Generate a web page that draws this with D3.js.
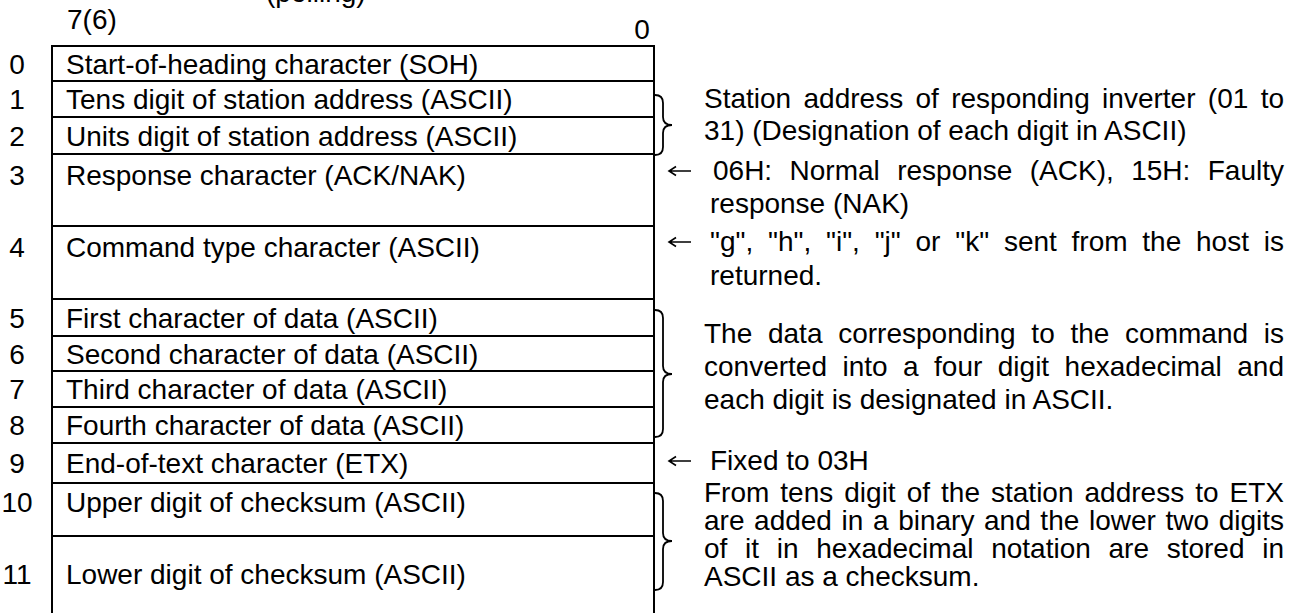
<!DOCTYPE html>
<html>
<head>
<meta charset="utf-8">
<script src="https://cdn.jsdelivr.net/npm/d3@7"></script>
<style>
  html, body { margin: 0; padding: 0; background: #fff; }
  svg { display: block; }
  text { font-family: "Liberation Sans", Arial, sans-serif; fill: #000; }
</style>
</head>
<body>
<script>
// ---------------- data ----------------
const titleText = "(polling)";
const bitLabels = ["7(6)", "0"];
const rowNumbers = ["0", "1", "2", "3", "4", "5", "6", "7", "8", "9", "10", "11"];
const rowFields = [
  "Start-of-heading character (SOH)",
  "Tens digit of station address (ASCII)",
  "Units digit of station address (ASCII)",
  "Response character (ACK/NAK)",
  "Command type character (ASCII)",
  "First character of data (ASCII)",
  "Second character of data (ASCII)",
  "Third character of data (ASCII)",
  "Fourth character of data (ASCII)",
  "End-of-text character (ETX)",
  "Upper digit of checksum (ASCII)",
  "Lower digit of checksum (ASCII)"
];
const noteMarkers = ["brace", "arrow", "arrow", "brace", "arrow", "brace"];
const noteRows = [[1, 2], [3, 3], [4, 4], [5, 8], [9, 9], [10, 11]];
const noteLines = [
  ["Station address of responding inverter (01 to", "31) (Designation of each digit in ASCII)"],
  ["06H: Normal response (ACK), 15H: Faulty", "response (NAK)"],
  ["\"g\", \"h\", \"i\", \"j\" or \"k\" sent from the host is", "returned."],
  ["The data corresponding to the command is", "converted into a four digit hexadecimal and", "each digit is designated in ASCII."],
  ["Fixed to 03H"],
  ["From tens digit of the station address to ETX", "are added in a binary and the lower two digits", "of it in hexadecimal notation are stored in", "ASCII as a checksum."]
];

// ---------------- layout ----------------
const W = 1294, H = 613;
const FS = 28;
const rowEdges = [46, 81, 117, 154, 226, 299, 336, 371, 407, 443, 483, 536, 640];
const y = d3.scaleLinear().domain(d3.range(rowEdges.length)).range(rowEdges);
const tx = d3.scaleLinear().domain([0, 1]).range([52, 654]);
const noteBaselines = [[108, 140], [180, 213], [251, 285], [343, 376, 409], [470], [502, 530, 558, 586]];
const braceSpans = [[95, 155, 125], null, null, [310, 437, 374], null, [493, 590, 541]];
const noteX = { brace: 704, arrow: 710 };
const justifyRight = 1284;

const svg = d3.select("body").append("svg").attr("width", W).attr("height", H);

function rowBaseline(i) {
  const t = y(i), b = y(i + 1), h = b - t;
  if (h < 45) return (t + b) / 2 + 10;
  if (h < 60) return t + 29;
  if (h < 80) return t + 31;
  return t + 48;
}

// title (cut off at top, as in the reference)
svg.append("text").attr("x", 266).attr("y", 2).attr("font-size", FS).text(titleText);

// bit labels
svg.append("text").attr("x", 67).attr("y", 29).attr("font-size", FS).text(bitLabels[0]);
svg.append("text").attr("x", 642).attr("y", 39).attr("font-size", FS).attr("text-anchor", "middle").text(bitLabels[1]);

// table lines
const g = svg.append("g").attr("stroke", "#000").attr("stroke-width", 2).attr("fill", "none");
g.selectAll("line.h").data(d3.range(rowFields.length)).join("line")
  .attr("class", "h")
  .attr("x1", tx(0) - 1).attr("x2", tx(1) + 1)
  .attr("y1", d => y(d)).attr("y2", d => y(d));
g.append("line").attr("x1", tx(0)).attr("x2", tx(0)).attr("y1", y(0) - 1).attr("y2", H + 20);
g.append("line").attr("x1", tx(1)).attr("x2", tx(1)).attr("y1", y(0) - 1).attr("y2", H + 20);

// row numbers and fields
svg.append("g").selectAll("text").data(rowNumbers).join("text")
  .attr("x", 17).attr("y", (d, i) => rowBaseline(i))
  .attr("text-anchor", "middle").attr("font-size", FS).text(d => d);
svg.append("g").selectAll("text").data(rowFields).join("text")
  .attr("x", 66).attr("y", (d, i) => rowBaseline(i))
  .attr("font-size", FS).text(d => d);

// measuring helper
const meas = svg.append("text").attr("font-size", FS).attr("x", -1000).attr("y", -1000);
function wordWidth(w) { meas.text(w); return meas.node().getComputedTextLength(); }

// notes
noteLines.forEach((lines, k) => {
  const kind = noteMarkers[k];
  const bl = noteBaselines[k];
  const p = d3.path();
  if (kind === "brace") {
    const [y0, y1, ym] = braceSpans[k];
    const x0 = 655, xb = 663, xt = 672, r = 8;
    p.moveTo(x0, y0);
    p.quadraticCurveTo(xb, y0, xb, y0 + r);
    p.lineTo(xb, ym - r);
    p.quadraticCurveTo(xb, ym, xt, ym);
    p.quadraticCurveTo(xb, ym, xb, ym + r);
    p.lineTo(xb, y1 - r);
    p.quadraticCurveTo(xb, y1, x0, y1);
    svg.append("path").attr("d", p.toString()).attr("fill", "none").attr("stroke", "#000").attr("stroke-width", 1.8);
  } else {
    // leftwards arrow (←)
    const yc = bl[0] - 9, xa = 669, xe = 691;
    p.moveTo(xe, yc); p.lineTo(xa, yc);
    p.moveTo(xa + 7, yc - 4.5); p.lineTo(xa, yc); p.lineTo(xa + 7, yc + 4.5);
    svg.append("path").attr("d", p.toString()).attr("fill", "none").attr("stroke", "#000").attr("stroke-width", 1.6);
  }
  lines.forEach((line, li) => {
    let x0 = noteX[kind];
    if (k === 1 && li === 0) x0 = 713;
    const t = svg.append("text").attr("y", bl[li]).attr("font-size", FS);
    const justify = li < lines.length - 1;
    const words = line.split(" ");
    if (!justify || words.length < 2) {
      t.attr("x", x0).text(line);
    } else {
      const widths = words.map(wordWidth);
      const total = d3.sum(widths);
      const gap = (justifyRight - x0 - total) / (words.length - 1);
      let cx = x0;
      words.forEach((w, wi) => {
        t.append("tspan").attr("x", cx).text(wi < words.length - 1 ? w + " " : w);
        cx += widths[wi] + gap;
      });
    }
  });
});
meas.remove();
</script>
</body>
</html>
